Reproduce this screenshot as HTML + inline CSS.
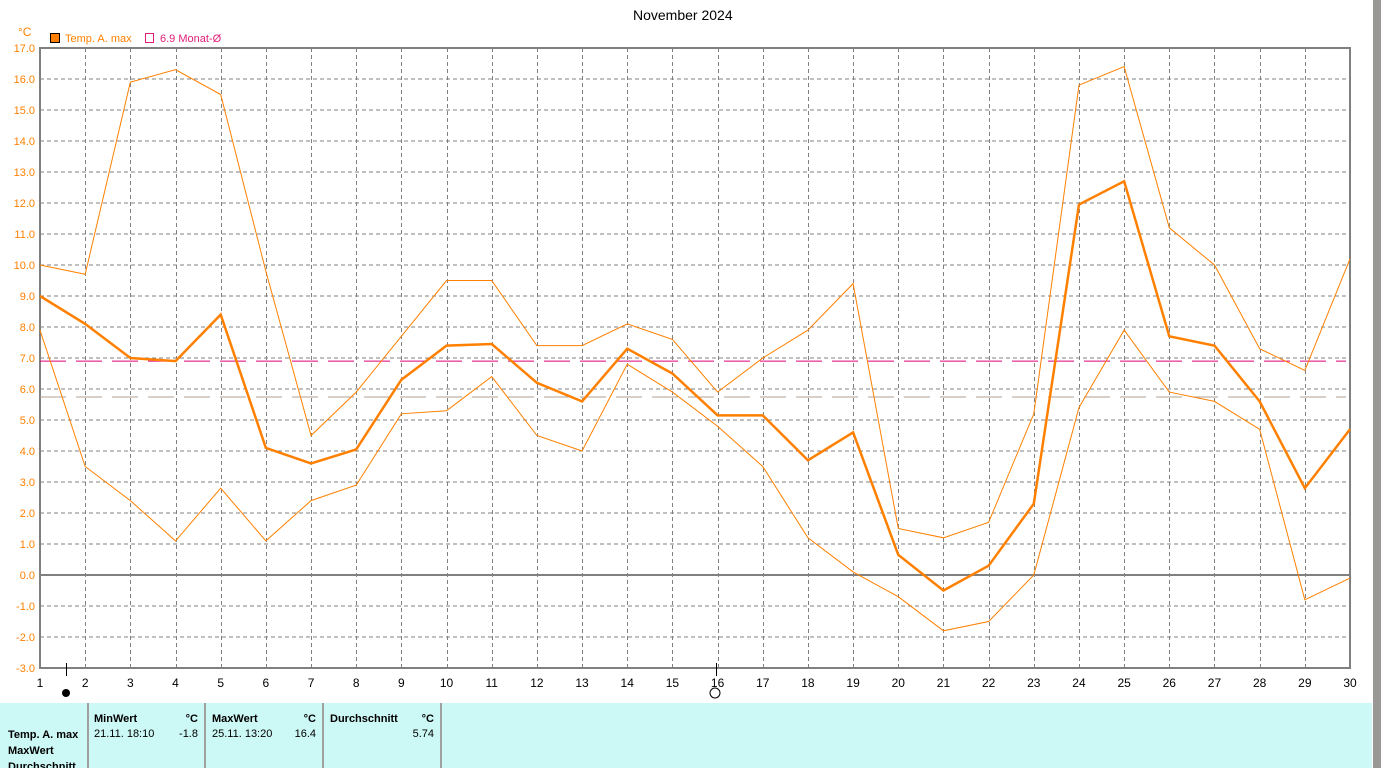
<!DOCTYPE html>
<html><head><meta charset="utf-8"><style>
body{margin:0;width:1381px;height:768px;overflow:hidden;background:#fff;font-family:"Liberation Sans",sans-serif;position:relative}
.tx{position:absolute;font-size:12px;white-space:nowrap}
</style></head><body>
<svg id="s" width="1381" height="768" style="position:absolute;left:0;top:0" font-family="Liberation Sans, sans-serif"></svg>
<div class="tx" style="left:633px;top:7px;font-size:14px">November 2024</div>
<script>
const up=[10.0,9.7,15.9,16.3,15.5,9.8,4.5,5.9,7.7,9.5,9.5,7.4,7.4,8.1,7.6,5.9,7.0,7.9,9.4,1.5,1.2,1.7,5.2,15.8,16.4,11.2,10.0,7.3,6.6,10.2];
const mid=[9.0,8.1,7.0,6.9,8.4,4.1,3.6,4.05,6.3,7.4,7.45,6.2,5.6,7.3,6.5,5.15,5.15,3.7,4.6,0.65,-0.5,0.3,2.3,11.95,12.7,7.7,7.4,5.6,2.8,4.7];
const lo=[7.9,3.5,2.4,1.1,2.8,1.1,2.4,2.9,5.2,5.3,6.4,4.5,4.0,6.8,5.9,4.8,3.5,1.2,0.1,-0.7,-1.8,-1.5,0.0,5.4,7.9,5.9,5.6,4.7,-0.8,-0.1];
const X=d=>40+(d-1)*1310/29, Y=v=>575-v*31;
let h='';
h+='<rect x="1373" y="0" width="8" height="768" fill="#9a9894"/>';
h+='<rect x="0" y="703" width="1372" height="65" fill="#ccf8f6"/>';
for(let v=-3;v<=17;v++){const y=Y(v);
 if(v!=0&&v!=17&&v!=-3)h+=`<line x1="40" x2="1350" y1="${y}" y2="${y}" stroke="#808080" stroke-dasharray="4,3"/>`;
 h+=`<text x="35" y="${y+4}" font-size="11" fill="#ff8000" text-anchor="end">${v.toFixed(1)}</text>`;}
for(let d=2;d<=29;d++){const x=Math.round(X(d))+.5;h+=`<line x1="${x}" x2="${x}" y1="48" y2="668" stroke="#808080" stroke-dasharray="4,3"/>`;}
for(let d=1;d<=30;d++)h+=`<text x="${X(d)}" y="687" font-size="12" text-anchor="middle">${d}</text>`;
h+=`<rect x="40" y="48" width="1310" height="620" fill="none" stroke="#808080" stroke-width="2"/>`;
h+=`<line x1="40" x2="1350" y1="575" y2="575" stroke="#808080" stroke-width="2"/>`;
h+=`<line x1="40" x2="1346" y1="${Y(6.9)}" y2="${Y(6.9)}" stroke="#e0007a" stroke-dasharray="26,10"/>`;
h+=`<line x1="40" x2="1346" y1="${Y(5.74)}" y2="${Y(5.74)}" stroke="#b0a090" stroke-dasharray="26,10"/>`;
const pl=(a,w)=>`<polyline fill="none" stroke="#ff8000" stroke-width="${w}" points="${a.map((v,i)=>X(i+1)+','+Y(v)).join(' ')}"/>`;
h+=pl(up,1)+pl(lo,1)+pl(mid,2.5);
h+='<line x1="66.5" x2="66.5" y1="663" y2="676" stroke="#000"/><circle cx="66" cy="693" r="4" fill="#000"/>';
h+='<line x1="716.5" x2="716.5" y1="663" y2="676" stroke="#000"/><circle cx="715" cy="693" r="5" fill="none" stroke="#000"/>';
h+='<text x="18" y="36" font-size="12" fill="#ff8000">°C</text>';
h+='<rect x="50.5" y="33.5" width="9" height="9" fill="#ff8000" stroke="#000"/><text x="65" y="42" font-size="11" fill="#ff8000">Temp. A. max</text>';
h+='<rect x="145.5" y="33.5" width="8" height="9" fill="none" stroke="#e0207a"/><text x="160" y="42" font-size="11" fill="#e0207a">6.9 Monat-Ø</text>';
[88,205,323,441].forEach(x=>h+=`<line x1="${x}" x2="${x}" y1="703" y2="768" stroke="#a0a0a0" stroke-width="2"/>`);
const t=(x,y,s,b,a)=>h+=`<text x="${x}" y="${y}" font-size="11" ${b?'font-weight="bold"':''} ${a?'text-anchor="end"':''}>${s}</text>`;
t(94,722,'MinWert',1);t(198,722,'°C',1,1);t(212,722,'MaxWert',1);t(316,722,'°C',1,1);t(330,722,'Durchschnitt',1);t(434,722,'°C',1,1);
t(8,738,'Temp. A. max',1);t(8,754,'MaxWert',1);t(8,770,'Durchschnitt',1);
t(94,737,'21.11.  18:10');t(198,737,'-1.8',0,1);t(212,737,'25.11.  13:20');t(316,737,'16.4',0,1);t(434,737,'5.74',0,1);
document.getElementById('s').innerHTML=h;
</script>
</body></html>
